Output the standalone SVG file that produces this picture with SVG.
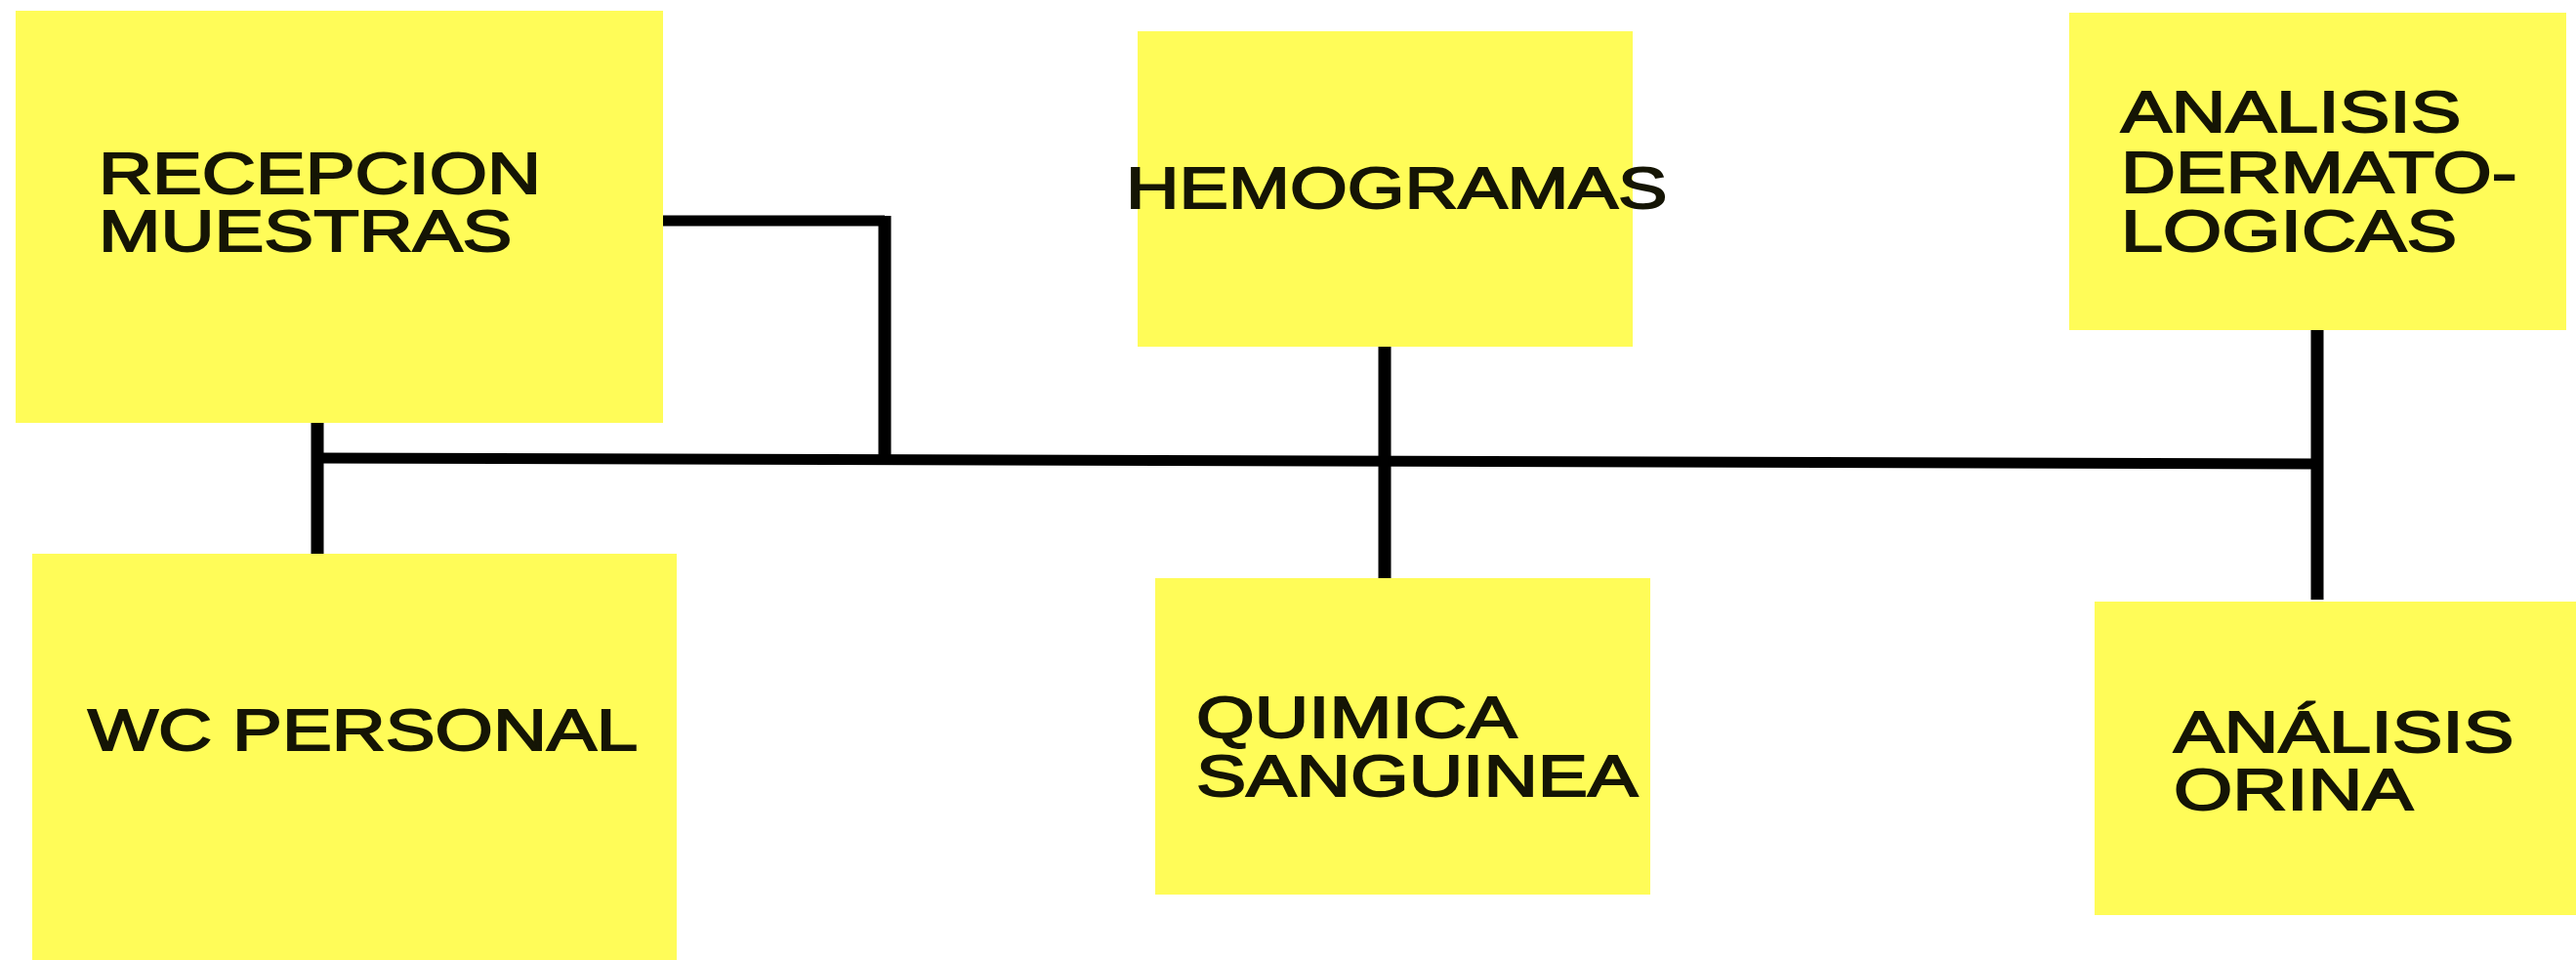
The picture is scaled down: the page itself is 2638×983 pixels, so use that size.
<svg xmlns="http://www.w3.org/2000/svg" width="2638" height="983" viewBox="0 0 2638 983">
<style>
.box{fill:#fffc58;}
.lbl{font-family:"Liberation Sans",Arial,sans-serif;font-size:60px;fill:#151505;stroke:#151505;stroke-width:1.8px;}
.v{stroke:#000;stroke-width:13;fill:none;}
.h{stroke:#000;stroke-width:11;fill:none;}
</style>
<rect width="2638" height="983" fill="#ffffff"/>
<g id="connectors">
<path class="h" d="M679 226 H906"/>
<path class="v" d="M906 221 V474"/>
<path class="h" d="M319 469 L2379 475"/>
<path class="v" d="M325 433 V567"/>
<path class="v" d="M1418 355 V596"/>
<path class="v" d="M2373 338 V614"/>
</g>
<g id="recepcion">
<rect class="box" x="16" y="11" width="663" height="422"/>
<text class="lbl" transform="translate(101 198) scale(1.27 1)">RECEPCION</text>
<text class="lbl" transform="translate(101 257) scale(1.27 1)">MUESTRAS</text>
</g>
<g id="wc">
<rect class="box" x="33" y="567" width="660" height="416"/>
<text class="lbl" transform="translate(90 768) scale(1.27 1)">WC PERSONAL</text>
</g>
<g id="hemogramas">
<rect class="box" x="1165" y="32" width="507" height="323"/>
<text class="lbl" transform="translate(1153 213) scale(1.26 1)">HEMOGRAMAS</text>
</g>
<g id="quimica">
<rect class="box" x="1183" y="592" width="507" height="324"/>
<text class="lbl" transform="translate(1225 755) scale(1.28 1)">QUIMICA</text>
<text class="lbl" transform="translate(1225 815) scale(1.28 1)">SANGUINEA</text>
</g>
<g id="dermato">
<rect class="box" x="2119" y="13" width="509" height="325"/>
<text class="lbl" transform="translate(2172 135) scale(1.29 1)">ANALISIS</text>
<text class="lbl" transform="translate(2172 197) scale(1.29 1)">DERMATO-</text>
<text class="lbl" transform="translate(2172 257) scale(1.29 1)">LOGICAS</text>
</g>
<g id="orina">
<rect class="box" x="2145" y="616" width="493" height="321"/>
<text class="lbl" transform="translate(2226 770) scale(1.29 1)">ANÁLISIS</text>
<text class="lbl" transform="translate(2226 829) scale(1.29 1)">ORINA</text>
</g>
</svg>
